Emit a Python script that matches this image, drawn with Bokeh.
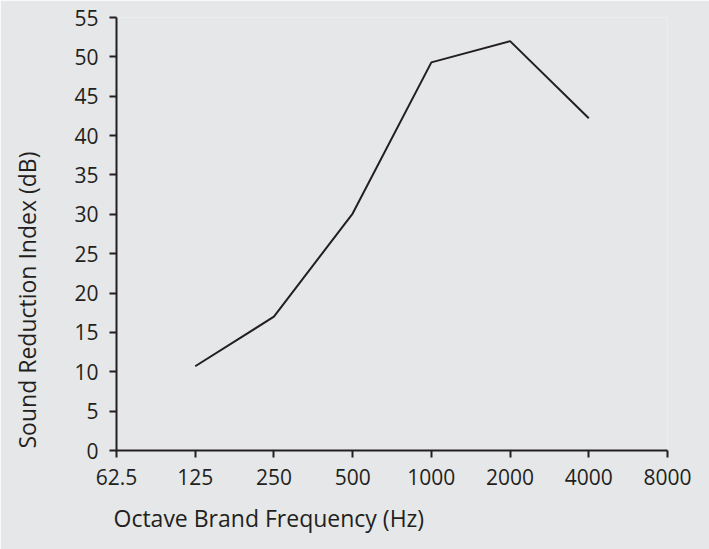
from bokeh.plotting import figure
from bokeh.models import FixedTicker, Range1d, Title
from bokeh.embed import file_html
from bokeh.resources import INLINE

frequencies = [125, 250, 500, 1000, 2000, 4000]
reduction_db = [10.7, 17.0, 30.1, 49.3, 52.0, 42.2]
x_ticks = [62.5, 125, 250, 500, 1000, 2000, 4000, 8000]
x_tick_labels = ["62.5", "125", "250", "500", "1000", "2000", "4000", "8000"]
y_ticks = list(range(0, 56, 5))

BG = "#e6e7e8"
INK = "#231f20"
FONT = "Open Sans"

p = figure(width=709, height=549, x_axis_type="log",
           x_range=Range1d(62.5, 8000), y_range=Range1d(0, 55),
           output_backend="svg", toolbar_location=None,
           background_fill_color=BG, border_fill_color=BG,
           min_border_left=116, min_border_right=42,
           min_border_top=17, min_border_bottom=99)
p.outline_line_color = None
p.grid.visible = False

p.line(frequencies, reduction_db, line_color=INK, line_width=2)

for ax in (p.xaxis[0], p.yaxis[0]):
    ax.axis_line_color = INK
    ax.axis_line_width = 2
    ax.major_tick_line_color = INK
    ax.major_tick_line_width = 2
    ax.major_tick_out = 7
    ax.major_tick_in = 0
    ax.minor_tick_line_color = None
    ax.major_label_text_font = FONT
    ax.major_label_text_font_size = "21px"
    ax.major_label_text_color = INK

p.xaxis.ticker = FixedTicker(ticks=x_ticks)
p.xaxis.major_label_overrides = {t: l for t, l in zip(x_ticks, x_tick_labels)}
p.xaxis.major_label_standoff = 11
p.yaxis.ticker = FixedTicker(ticks=y_ticks)
p.yaxis.major_label_standoff = 11
# blank axis label used only as a spacer between tick labels and the title
p.yaxis.axis_label = " "
p.yaxis.axis_label_text_font_size = "12px"
p.yaxis.axis_label_standoff = 5

yt = Title(text="Sound Reduction Index (dB)", align="left", offset=2,
           vertical_align="top",
           text_font=FONT, text_font_size="23px", text_font_style="normal",
           text_color=INK, standoff=10)
p.add_layout(yt, "left")

xt = Title(text="Octave Brand Frequency (Hz)", align="left", offset=-3,
           text_font=FONT, text_font_size="23px", text_font_style="normal",
           text_color=INK, standoff=24)
p.add_layout(xt, "below")

open("out.html", "w").write(file_html(p, INLINE))
